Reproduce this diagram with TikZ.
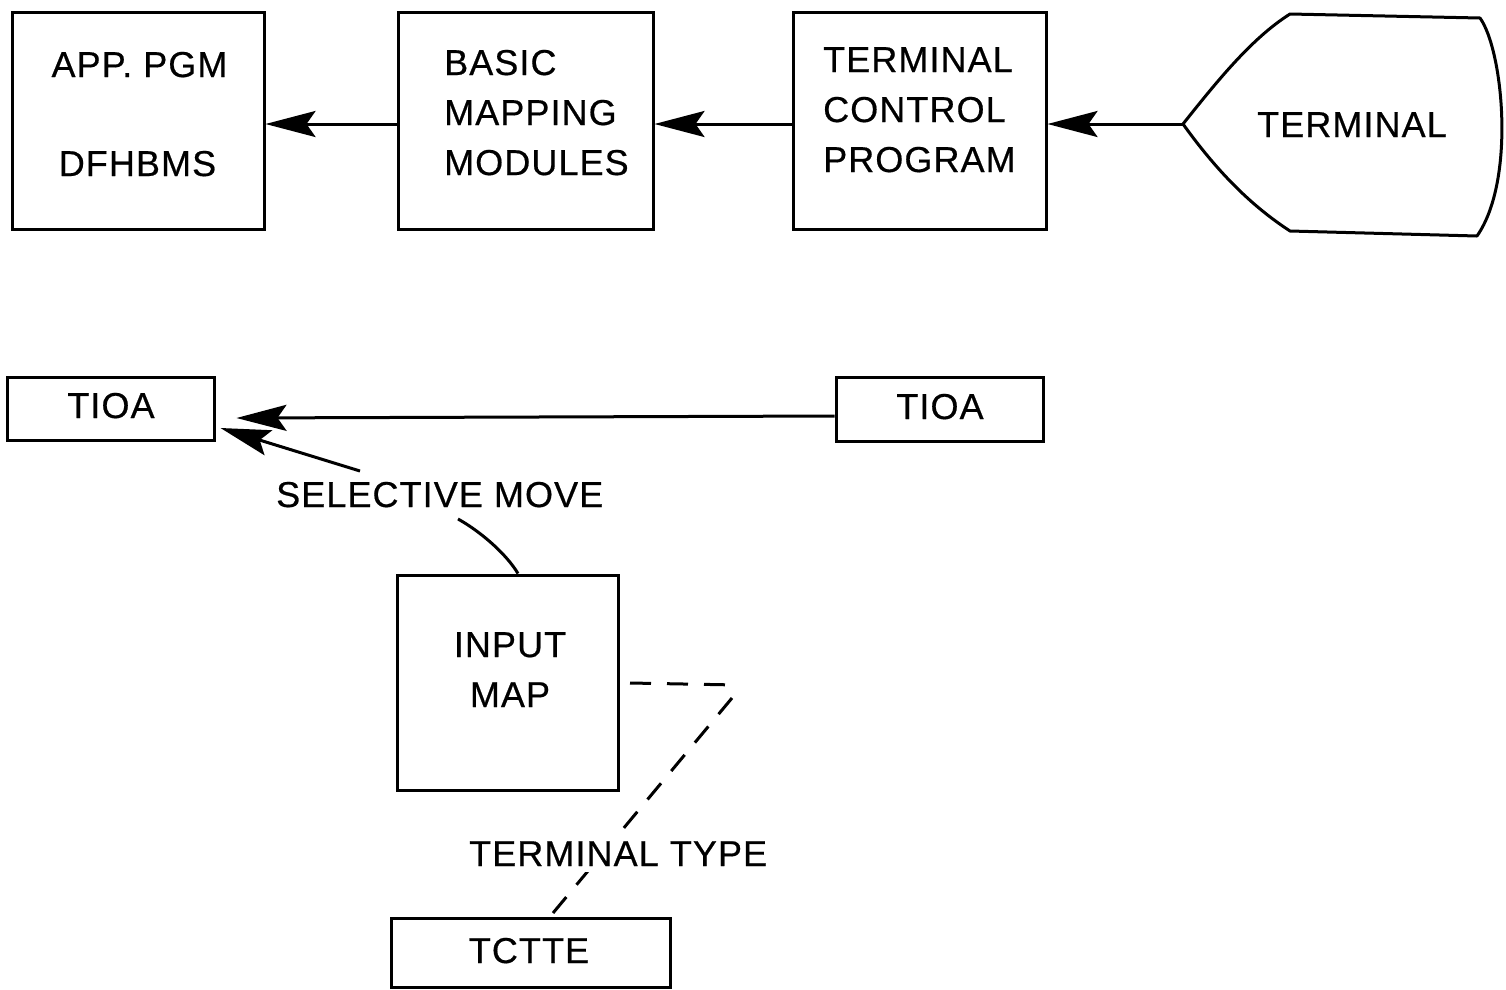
\documentclass[tikz,border=0pt]{standalone}
\usepackage{fontspec}
\setmainfont{Liberation Sans}[FakeBold=0.5, LetterSpace=3]
\usetikzlibrary{arrows.meta}
\begin{document}
\begin{tikzpicture}[x=1pt,y=-1pt,
  every node/.style={inner sep=0pt, font=\fontsize{36}{40}\selectfont},
  box/.style={draw, line width=3pt, rectangle},
  lbl/.style={anchor=base},
  lbll/.style={anchor=base west},
  conn/.style={line width=3pt},
  arr/.style={line width=3pt, -{Stealth[length=50pt,width=26pt,inset=9pt]}},
  dashline/.style={line width=3pt, dash pattern=on 21pt off 16pt},
]
\useasboundingbox (0,0) rectangle (1506,989);

% upper row of boxes
\node[box, minimum width=252pt, minimum height=217pt] (app)  at (138,120.5) {};
\node[box, minimum width=255pt, minimum height=217pt] (bmm)  at (525.5,120.5) {};
\node[box, minimum width=253pt, minimum height=217pt] (tcp)  at (919.5,120.5) {};

\node[lbl] (appA) at (139.5,77) {APP. PGM};
\node[lbl] (appB) at (137.5,176) {DFHBMS};

\node[lbll] (bmmA) at (444,75) {BASIC};
\node[lbll] (bmmB) at (444,125) {MAPPING};
\node[lbll] (bmmC) at (444,175) {MODULES};

\node[lbll] (tcpA) at (823,72) {TERMINAL};
\node[lbll] (tcpB) at (823,122) {CONTROL};
\node[lbll] (tcpC) at (823,172) {PROGRAM};

% terminal symbol
\coordinate (term) at (1183,124);
\draw[conn, line join=round] (term) .. controls (1218,80) and (1252,38) .. (1290,14)
  -- (1480,18) .. controls (1503,50) and (1516,180) .. (1477,236)
  -- (1290,231) .. controls (1250,205) and (1216,170) .. (term) -- cycle;
\node[lbl] (termt) at (1352,137) {TERMINAL};

% flow of the upper row
\draw[arr] (term) -- (term -| tcp.east);
\draw[arr] (tcp.west |- term) -- (term -| bmm.east);
\draw[arr] (bmm.west |- term) -- (term -| app.east);

% TIOA boxes
\node[box, minimum width=207pt, minimum height=63pt] (tioaL) at (110.5,408.5) {};
\node[box, minimum width=207pt, minimum height=64pt] (tioaR) at (939.5,409) {};
\node[lbl] (tioaLt) at (111,418) {TIOA};
\node[lbl] (tioaRt) at (940,419) {TIOA};

\draw[arr] ([yshift=-7pt]tioaR.west) -- ([xshift=21pt,yshift=-9.5pt]tioaL.east);

\node[lbll] (sel) at (276,507) {SELECTIVE MOVE};
\coordinate (selA) at (360,471);
\draw[arr] (selA) -- ([xshift=5pt,yshift=-19.5pt]tioaL.east);

% input map
\node[box, minimum width=221pt, minimum height=215pt] (imap) at (507.5,682.5) {};
\node[lbl] (imapA) at (510,657) {INPUT};
\node[lbl] (imapB) at (510,707) {MAP};

\coordinate (selB) at (458,519);
\draw[conn] (selB) .. controls (478,530) and (505,552) .. (imap.north -| 518,0);

% terminal type link
\node[box, minimum width=279pt, minimum height=69pt] (tctte) at (530.5,952.5) {};
\node[lbl] (tctteT) at (529,963) {TCTTE};

\coordinate (dA) at (630,683);
\coordinate (dB) at (738,685);
\coordinate (dC) at (732,698);
\coordinate (dD) at (553,913);
\draw[dashline] (dA) -- (dB);
\draw[dashline] (dC) -- (dD);
\node[lbll, fill=white, inner ysep=6pt, inner xsep=1pt] (ttype) at (468,866) {TERMINAL TYPE};
\end{tikzpicture}
\end{document}
